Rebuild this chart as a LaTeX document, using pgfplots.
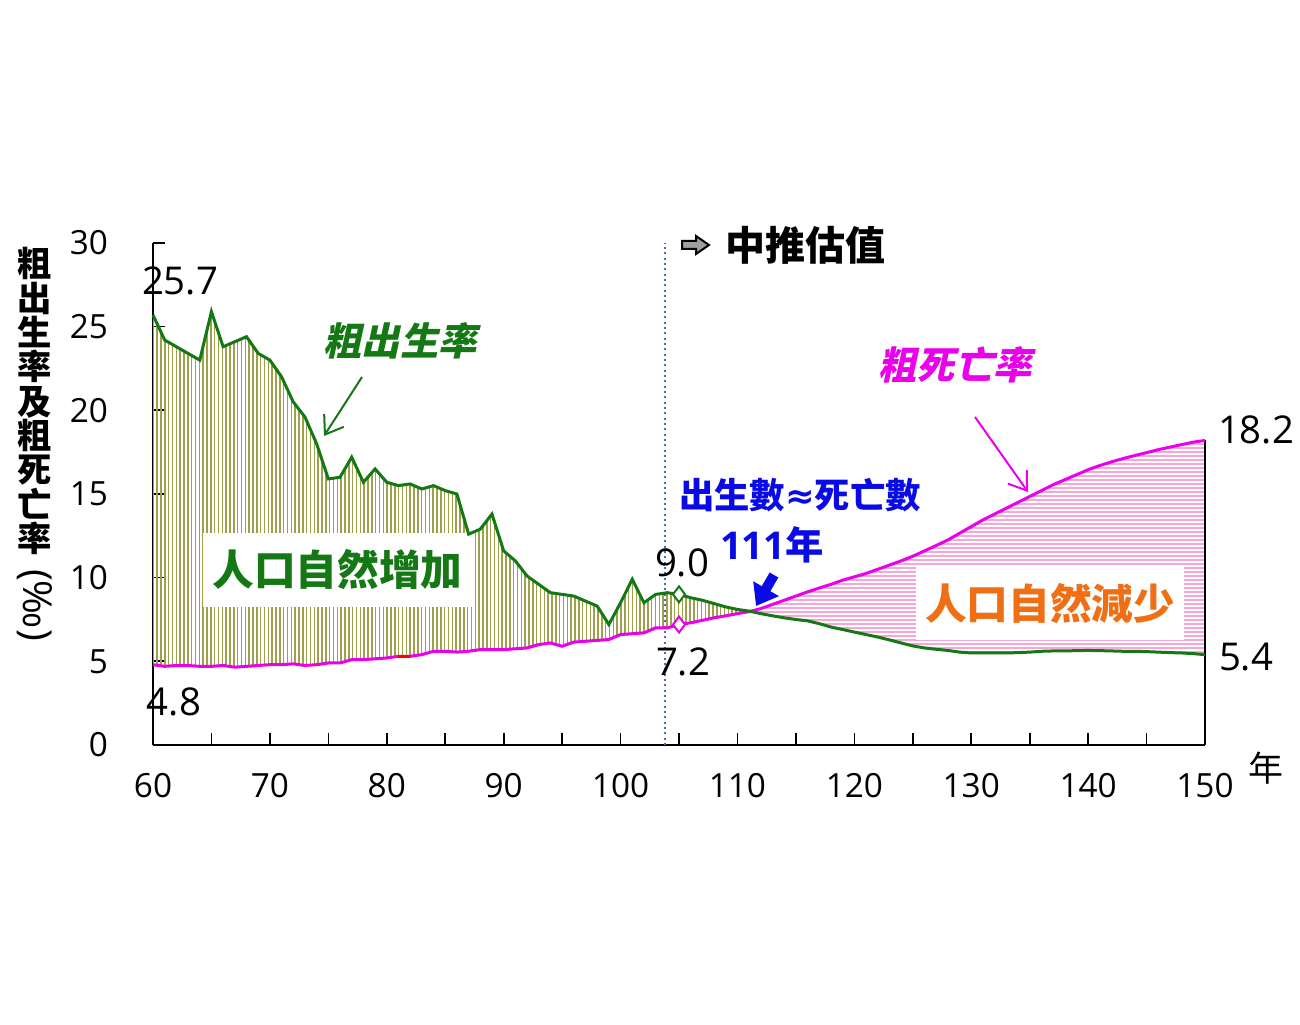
\documentclass[border=0pt]{standalone}
\usepackage{pgfplots}
\pgfplotsset{compat=1.18}
\usepackage{pgfplotstable}
\usepgfplotslibrary{fillbetween}
\usetikzlibrary{arrows.meta,patterns.meta}
\usepackage{fontspec}
\setmainfont{Open Sans}
\newfontfamily\cjk{Noto Sans CJK TC}
\newfontfamily\cjksl{Noto Sans CJK TC}[FakeSlant=0.22]
\newfontfamily\sym{DejaVu Sans}

\definecolor{birthgreen}{RGB}{20,120,20}
\definecolor{deathmag}{RGB}{235,0,235}
\definecolor{olivehatch}{RGB}{160,160,75}
\definecolor{pinkhatch}{RGB}{248,165,215}
\definecolor{txtblue}{RGB}{10,10,230}
\definecolor{txtorange}{RGB}{240,110,20}
\definecolor{dotblue}{RGB}{70,110,170}

\pgfplotstableread{
x b d
60 25.7 4.8
61 24.2 4.7
62 23.8 4.75
63 23.4 4.75
64 23.0 4.7
65 25.9 4.7
66 23.8 4.75
67 24.1 4.65
68 24.4 4.7
69 23.4 4.75
70 23.0 4.8
71 22.0 4.8
72 20.5 4.85
73 19.6 4.75
74 18.0 4.8
75 15.9 4.9
76 16.0 4.9
77 17.2 5.1
78 15.7 5.1
79 16.5 5.15
80 15.7 5.2
81 15.5 5.3
82 15.6 5.3
83 15.3 5.4
84 15.5 5.6
85 15.2 5.6
86 15.0 5.55
87 12.6 5.6
88 12.9 5.7
89 13.8 5.7
90 11.6 5.7
91 11.0 5.75
92 10.1 5.8
93 9.6 6.0
94 9.1 6.1
95 9.0 5.9
96 8.9 6.15
97 8.6 6.2
98 8.3 6.25
99 7.2 6.3
100 8.5 6.6
101 9.9 6.65
102 8.5 6.7
103 9.0 7.0
104 9.1 7.0
105 9.0 7.2
106 8.8 7.3
107 8.65 7.45
108 8.45 7.6
109 8.25 7.72
110 8.1 7.85
111 8.0 7.97
112 7.85 8.15
113 7.72 8.4
114 7.6 8.65
115 7.5 8.9
116 7.42 9.15
117 7.25 9.38
118 7.05 9.6
119 6.9 9.85
120 6.75 10.05
121 6.6 10.25
122 6.45 10.5
123 6.28 10.75
124 6.1 11.0
125 5.92 11.28
126 5.8 11.6
127 5.72 11.92
128 5.65 12.25
129 5.55 12.65
130 5.5 13.05
131 5.5 13.45
132 5.5 13.8
133 5.5 14.15
134 5.52 14.5
135 5.55 14.85
136 5.6 15.2
137 5.62 15.55
138 5.62 15.85
139 5.64 16.15
140 5.65 16.45
141 5.64 16.7
142 5.62 16.92
143 5.6 17.12
144 5.6 17.3
145 5.58 17.47
146 5.55 17.65
147 5.52 17.8
148 5.5 17.95
149 5.46 18.1
150 5.4 18.2
}\data

\begin{document}
\begin{tikzpicture}
\path (0,0) rectangle (390pt,307.2pt);
\begin{axis}[
  at={(45.9pt,83.7pt)}, anchor=south west,
  scale only axis, width=315.6pt, height=150.6pt,
  xmin=60, xmax=150, ymin=0, ymax=30,
  axis lines=left,
  axis line style={-, black, line width=0.7pt},
  xtick={60,70,...,150}, minor xtick={65,75,...,145},
  ytick={0,5,...,30},
  tick align=inside, major tick length=3.6pt, minor tick length=3.6pt,
  tick style={black, line width=0.5pt},
  ticklabel style={font=\fontsize{10}{12}\selectfont},
  /pgf/number format/assume math mode=true,
  xticklabel style={yshift=-5pt},
  yticklabel style={xshift=-10pt},
  clip=false,
]
\addplot[draw=none, name path=B, forget plot] table[x=x,y=b]{\data};
\addplot[draw=none, name path=D, forget plot] table[x=x,y=d]{\data};
\addplot[draw=none, pattern color=olivehatch, pattern={Lines[angle=90,distance=1.15pt,line width=0.42pt]}]
  fill between[of=B and D, soft clip={domain=60:111.2}];
\addplot[draw=none, pattern color=pinkhatch, pattern={Lines[angle=0,distance=1.2pt,line width=0.4pt]}]
  fill between[of=B and D, soft clip={domain=111.2:150}];

% white boxes for labels
\node[fill=white, inner sep=0pt, minimum width=80.7pt, minimum height=22.2pt,
      text=birthgreen, font=\cjk\bfseries\fontsize{12.5}{14}\selectfont]
  at (axis cs:75.78,10.46) {人口自然增加};
\node[fill=white, inner sep=0pt, minimum width=80.4pt, minimum height=21.9pt,
      font=\cjk\bfseries\fontsize{12.5}{14}\selectfont]
  at (axis cs:136.74,8.46) {\textcolor{txtorange}{人口自然減少}};

% dotted separator and right edge
\addplot[dotblue, densely dotted, line width=0.6pt] coordinates {(103.8,0) (103.8,30)};
\addplot[black, line width=0.6pt] coordinates {(150,0) (150,18.2)};

% lines
\addplot[deathmag, line width=0.9pt] table[x=x,y=d]{\data};
\addplot[red, line width=0.9pt] coordinates {(81,5.3) (82,5.3)};
\addplot[birthgreen, line width=0.9pt] table[x=x,y=b]{\data};

% diamonds
\addplot[only marks, mark=diamond*, mark size=2.4pt, mark options={fill=white, draw=birthgreen, line width=0.6pt}] coordinates {(105,9.0)};
\addplot[only marks, mark=diamond*, mark size=2.4pt, mark options={fill=white, draw=deathmag, line width=0.6pt}] coordinates {(105,7.2)};
\end{axis}

\begin{scope}[x=0.3pt, y=-0.3pt, shift={(0pt,307.2pt)}]
% y label
\node[align=center, inner sep=0pt, font=\cjk\bfseries\fontsize{10.3}{10.3}\selectfont]
  at (35,401) {粗\\出\\生\\率\\及\\粗\\死\\亡\\率};
\node[rotate=-90, inner sep=0pt, font=\fontsize{12}{14}\selectfont] at (35,605) {(‰)};
% x unit
\node[inner sep=0pt, font=\cjk\fontsize{10.5}{12}\selectfont] at (1266,768) {年};

% series names and arrows
\node[text=birthgreen, font=\cjksl\bfseries\fontsize{11.5}{13}\selectfont] at (400,341) {粗出生率};
\draw[birthgreen, line width=0.6pt, -{Straight Barb[length=5pt,width=7pt]}] (362,377) -- (324,436);
\node[text=deathmag, font=\cjksl\bfseries\fontsize{11.5}{13}\selectfont] at (955,365) {粗死亡率};
\draw[deathmag, line width=0.6pt, -{Straight Barb[length=5pt,width=7pt]}] (975,417) -- (1028,492);

% projection header
\draw[fill=gray!75, draw=black, line width=0.6pt] (682,241) -- (696,241) -- (696,236) -- (709,245) -- (696,254) -- (696,249) -- (682,249) -- cycle;
\node[font=\cjk\bfseries\fontsize{12}{14}\selectfont] at (805,245) {中推估值};

% crossing annotation
\node[text=txtblue, font=\cjk\bfseries\fontsize{10.6}{12}\selectfont] at (800,495) {出生數{\sym\bfseries ≈}死亡數};
\node[text=txtblue, font=\bfseries\fontsize{11.5}{13}\selectfont] at (772,545) {111{\cjk\bfseries 年}};
\draw[txtblue, line width=3pt, -{Triangle[length=6pt,width=8.5pt]}] (774,575) -- (756,606);

% value labels
\begin{scope}[every node/.style={inner sep=0pt, font=\fontsize{11.5}{13}\selectfont}]
\node at (180,281) {25.7};
\node at (174,702) {4.8};
\node at (682,563) {9.0};
\node at (683,662) {7.2};
\node at (1256,430) {18.2};
\node at (1246,657) {5.4};
\end{scope}
\end{scope}
\end{tikzpicture}
\end{document}
